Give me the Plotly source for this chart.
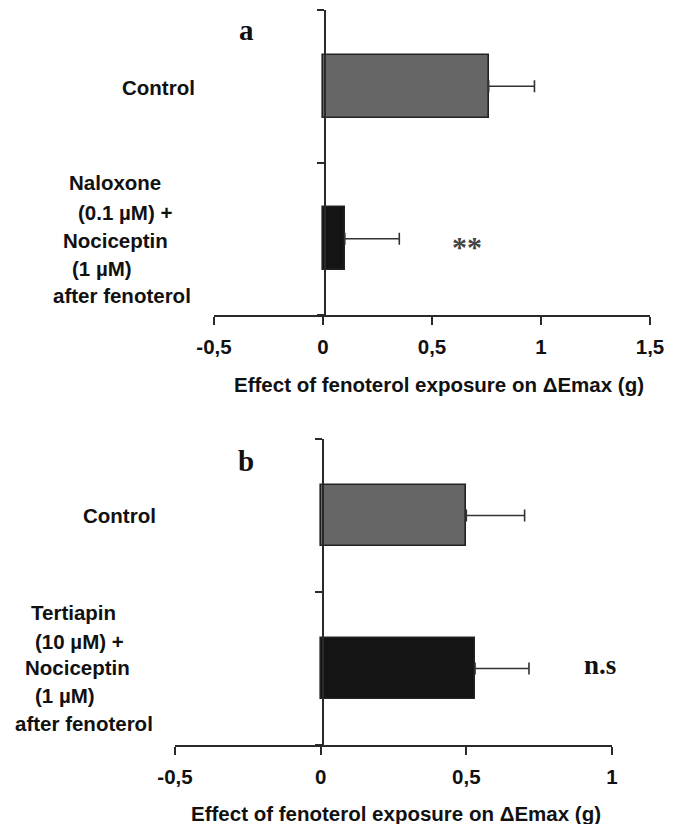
import plotly.graph_objects as go

W, H = 678, 824

# ---------------- data ----------------
a_categories = ["Control", "Naloxone (0.1 µM) + Nociceptin (1 µM) after fenoterol"]
a_values = [0.76, 0.10]
a_errors = [0.21, 0.25]
a_colors = ["#666666", "#141414"]
a_ticks = [-0.5, 0, 0.5, 1, 1.5]
a_ticklabels = ["-0,5", "0", "0,5", "1", "1,5"]
a_sig = "**"
a_sig_x = 0.66

b_categories = ["Control", "Tertiapin (10 µM) + Nociceptin (1 µM) after fenoterol"]
b_values = [0.50, 0.53]
b_errors = [0.20, 0.185]
b_colors = ["#666666", "#141414"]
b_ticks = [-0.5, 0, 0.5, 1]
b_ticklabels = ["-0,5", "0", "0,5", "1"]
b_sig = "n.s"
b_sig_x = 0.96

x_title = "Effect of fenoterol exposure on ΔEmax (g)"

a_label_lines = ["Naloxone", "(0.1 µM) +", "Nociceptin", "(1 µM)", "after fenoterol"]
b_label_lines = ["Tertiapin", "(10 µM) +", "Nociceptin", "(1 µM)", "after fenoterol"]

# ---------------- layout helpers (pixel -> paper) ----------------
# the page body has an 8px default margin; compensate so the picture lines up
OFF = 8


def px(x):
    return (x - OFF) / W


def py(y):
    return 1 - (y - OFF) / H


SANS = "Liberation Sans, Arial, sans-serif"
SERIF = "Liberation Serif, Times New Roman, serif"
LINE = "#2a2a2a"
FS = 20.5

fig = go.Figure()

# bars: numeric y positions, top category = 1
ypos = [1, 0]
fig.add_trace(go.Bar(
    x=a_values, y=ypos, orientation="h", width=0.41,
    marker=dict(color=a_colors, line=dict(color="#222222", width=1.6)),
    error_x=dict(type="data", array=a_errors, arrayminus=[0, 0], symmetric=False,
                 color="#333333", thickness=1.6, width=6),
    xaxis="x", yaxis="y", showlegend=False, hoverinfo="skip",
))
fig.add_trace(go.Bar(
    x=b_values, y=ypos, orientation="h", width=0.405,
    marker=dict(color=b_colors, line=dict(color="#222222", width=1.6)),
    error_x=dict(type="data", array=b_errors, arrayminus=[0, 0], symmetric=False,
                 color="#333333", thickness=1.6, width=6),
    xaxis="x2", yaxis="y2", showlegend=False, hoverinfo="skip",
))

xcommon = dict(showgrid=False, zeroline=False, showline=True, linecolor=LINE, linewidth=1.6,
               ticks="outside", ticklen=8, tickwidth=1.6, tickcolor=LINE,
               tickfont=dict(family=SANS, size=FS, color="#111111", weight="bold"),
               ticklabelstandoff=5, fixedrange=True, automargin=False)
ycommon = dict(showgrid=False, zeroline=False, showline=True, linecolor=LINE, linewidth=1.6,
               ticks="outside", ticklen=7, tickwidth=1.6, tickcolor=LINE,
               tickvals=[-0.5, 0.5, 1.5], showticklabels=False, range=[-0.5, 1.5],
               fixedrange=True, automargin=False)

fig.update_layout(
    width=W, height=H, margin=dict(l=0, r=0, t=0, b=0, autoexpand=False),
    paper_bgcolor="white", plot_bgcolor="white", bargap=0,
    xaxis=dict(xcommon, domain=[px(214), px(650)], range=[-0.5, 1.5],
               tickvals=a_ticks, ticktext=a_ticklabels, anchor="y"),
    yaxis=dict(ycommon, domain=[py(315), py(10)], anchor="free", position=px(325)),
    xaxis2=dict(xcommon, domain=[px(175), px(612)], range=[-0.5, 1.0],
                tickvals=b_ticks, ticktext=b_ticklabels, anchor="y2"),
    yaxis2=dict(ycommon, domain=[py(745), py(439)], anchor="free", position=px(323)),
)

ann = []
# axis titles
for cx, cy in [(439, 385), (396, 813)]:
    ann.append(dict(text=x_title, x=px(cx), y=py(cy), xref="paper", yref="paper",
                    showarrow=False, xanchor="center", yanchor="middle",
                    font=dict(family=SANS, size=FS, color="#111111", weight="bold")))

# panel letters
ann.append(dict(text="a", x=px(247), y=py(30), xref="paper", yref="paper", showarrow=False,
                xanchor="center", yanchor="middle",
                font=dict(family=SERIF, size=29, color="#111111", weight="bold")))
ann.append(dict(text="b", x=px(246), y=py(461), xref="paper", yref="paper", showarrow=False,
                xanchor="center", yanchor="middle",
                font=dict(family=SERIF, size=29, color="#111111", weight="bold")))

# significance marks (placed in data coords)
ann.append(dict(text=a_sig, x=a_sig_x, y=ypos[1], xref="x", yref="y", showarrow=False,
                xanchor="center", yanchor="middle", yshift=-8,
                font=dict(family=SERIF, size=30, color="#444444", weight="bold")))
ann.append(dict(text=b_sig, x=b_sig_x, y=ypos[1], xref="x2", yref="y2", showarrow=False,
                xanchor="center", yanchor="middle", yshift=4,
                font=dict(family=SERIF, size=27, color="#111111", weight="bold")))


# category labels
def lab(text, x, y, anchor="left"):
    ann.append(dict(text=text, x=px(x), y=py(y), xref="paper", yref="paper",
                    showarrow=False, xanchor=anchor, yanchor="middle",
                    font=dict(family=SANS, size=FS, color="#111111", weight="bold")))


lab(a_categories[0], 197, 87, "right")
a_lx = [67, 76, 61, 70, 51]
a_ly = [183, 212, 240, 268, 295]
for t, x, y in zip(a_label_lines, a_lx, a_ly):
    lab(t, x, y)

lab(b_categories[0], 158, 515, "right")
b_lx = [29, 33, 23, 33, 13]
b_ly = [612, 641, 667, 695, 723]
for t, x, y in zip(b_label_lines, b_lx, b_ly):
    lab(t, x, y)

fig.update_layout(annotations=ann)
fig.write_html("out.html")
